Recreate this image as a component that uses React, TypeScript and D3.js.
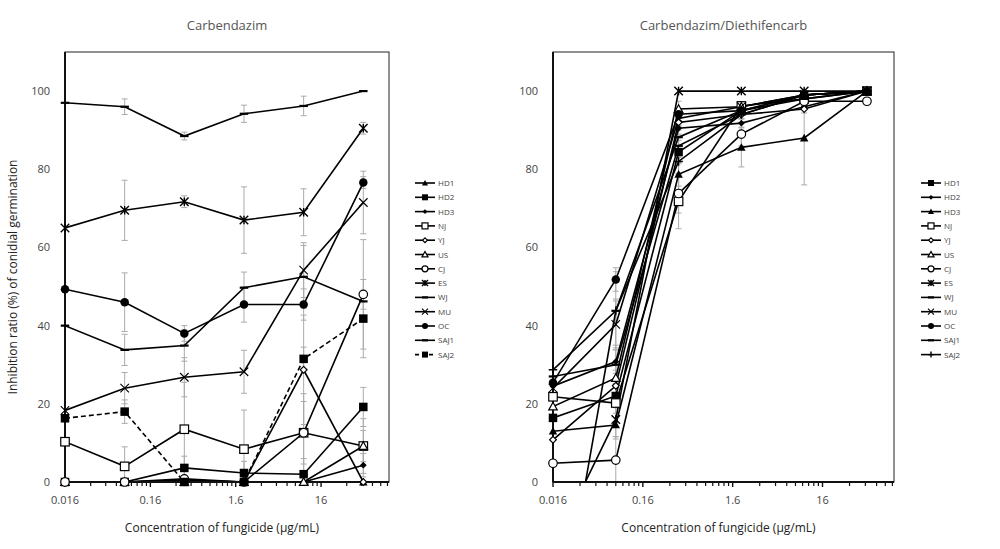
import React from "react";
import * as d3 from "d3";

const conc = [0.016, 0.08, 0.4, 2, 10, 50];
const names = ["HD1", "HD2", "HD3", "NJ", "YJ", "US", "CJ", "ES", "WJ", "MU", "OC", "SAJ1", "SAJ2"];
const xTicks = [0.016, 0.16, 1.6, 16];
const xTickLabels = ["0.016", "0.16", "1.6", "16"];
const yTicks = [0, 20, 40, 60, 80, 100];

// Carbendazim
const cHD1 = [0, 0, 0.5, 0, 0, 0];
const cHD2 = [0, 0, 3.6, 2.3, 2.0, 19.2];
const cHD3 = [0, 0, 0.5, 0, 0, 4.3];
const cNJ = [10.3, 4, 13.5, 8.4, 12.6, 9.2];
const cYJ = [0, 0, 0, 0, 28.7, 0];
const cUS = [0, 0, 0, 0, 0, 9.2];
const cCJ = [0, 0, 0.8, 0, 12.6, 48];
const cES = [65, 69.5, 71.7, 67, 69, 90.5];
const cWJ = [97, 96, 88.5, 94.2, 96.2, 100];
const cMU = [18.3, 24, 26.8, 28.2, 54.2, 71.5];
const cOC = [49.3, 46, 38, 45.4, 45.4, 76.6];
const cSAJ1 = [40, 33.8, 34.9, 49.7, 52.5, 46.2];
const cSAJ2 = [16.3, 18, 0, 0, 31.5, 41.8];

const cErrHD1 = [0, 0, 0, 0, 0, 0];
const cErrHD2 = [0, 0, 3, 3, 4, 5];
const cErrHD3 = [0, 0, 0, 0, 0, 3];
const cErrNJ = [0, 5, 12, 10, 10, 7];
const cErrYJ = [0, 0, 0, 0, 14, 0];
const cErrUS = [0, 0, 0, 0, 0, 4];
const cErrCJ = [0, 0, 0, 0, 8, 14];
const cErrES = [0, 7.7, 1.5, 8.5, 6, 1.5];
const cErrWJ = [0, 2, 1, 2.2, 2.5, 0];
const cErrMU = [0, 4, 5, 5.5, 7, 8];
const cErrOC = [0, 7.5, 2, 4.5, 4, 1.5];
const cErrSAJ1 = [0, 4, 4, 4, 8, 2];
const cErrSAJ2 = [0, 3, 0, 0, 3, 10];

// Carbendazim/Diethifencarb
const dHD1 = [16.4, 22, 84.4, 95, 99, 100];
const dHD2 = [24.5, 30.8, 90.5, 91.8, 96, 100];
const dHD3 = [13, 14.6, 78.7, 85.6, 88, 100];
const dNJ = [21.8, 20.2, 71.8, 96.2, 98, 100];
const dYJ = [10.8, 24.6, 92, 94, 95.4, 100];
const dUS = [19.3, 26.6, 95.4, 96, 99, 100];
const dCJ = [4.8, 5.6, 73.8, 89, 97.4, 97.4];
const dES = [-17, 16, 100, 100, 100, 100];
const dWJ = [-47, 43.8, 88.2, 95, 98, 100];
const dMU = [24, 40.3, 93, 96, 99, 100];
const dOC = [25.4, 51.8, 94.1, 95, 99, 100];
const dSAJ1 = [27, 30, 86, 94, 99, 100];
const dSAJ2 = [28.7, 43.8, 82, 94, 99, 100];

const dErrHD1 = [0, 3, 3, 1, 0, 0];
const dErrHD2 = [0, 3, 2, 1, 0, 0];
const dErrHD3 = [0, 3, 3, 5, 12, 0];
const dErrNJ = [0, 5, 7, 1, 1, 0];
const dErrYJ = [0, 4, 2, 1, 1, 0];
const dErrUS = [0, 4, 2, 1, 1, 0];
const dErrCJ = [0, 6, 5, 3, 1, 0];
const dErrES = [0, 5, 0, 0, 0, 0];
const dErrWJ = [0, 3, 3, 1, 0, 0];
const dErrMU = [0, 6, 2, 1, 0, 0];
const dErrOC = [0, 3, 1, 1, 0, 0];
const dErrSAJ1 = [0, 5, 3, 1, 0, 0];
const dErrSAJ2 = [0, 10, 3, 1, 0, 0];

const leftMarkers = ["triF", "sqF", "diaF", "sqO", "diaO", "triO", "cirO", "star", "dash", "x", "cirF", "dash", "sqF"];
const rightMarkers = ["sqF", "diaF", "triF", "sqO", "diaO", "triO", "cirO", "star", "dash", "x", "cirF", "dash", "plus"];

const leftValues = [cHD1, cHD2, cHD3, cNJ, cYJ, cUS, cCJ, cES, cWJ, cMU, cOC, cSAJ1, cSAJ2];
const leftErrs = [cErrHD1, cErrHD2, cErrHD3, cErrNJ, cErrYJ, cErrUS, cErrCJ, cErrES, cErrWJ, cErrMU, cErrOC, cErrSAJ1, cErrSAJ2];
const rightValues = [dHD1, dHD2, dHD3, dNJ, dYJ, dUS, dCJ, dES, dWJ, dMU, dOC, dSAJ1, dSAJ2];
const rightErrs = [dErrHD1, dErrHD2, dErrHD3, dErrNJ, dErrYJ, dErrUS, dErrCJ, dErrES, dErrWJ, dErrMU, dErrOC, dErrSAJ1, dErrSAJ2];

const FONT = "'Open Sans', 'Liberation Sans', sans-serif";

function Marker({ type, x, y, s }: { type: string; x: number; y: number; s: number }) {
  const h = s / 2;
  const sw = 1.2;
  switch (type) {
    case "sqF":
      return <rect x={x - h} y={y - h} width={s} height={s} fill="#000" />;
    case "sqO":
      return <rect x={x - h} y={y - h} width={s} height={s} fill="#fff" stroke="#000" strokeWidth={sw} />;
    case "cirF":
      return <circle cx={x} cy={y} r={h} fill="#000" />;
    case "cirO":
      return <circle cx={x} cy={y} r={h} fill="#fff" stroke="#000" strokeWidth={sw} />;
    case "triF":
      return <path d={`M${x},${y - h}L${x + h},${y + h * 0.8}L${x - h},${y + h * 0.8}Z`} fill="#000" />;
    case "triO":
      return <path d={`M${x},${y - h}L${x + h},${y + h * 0.8}L${x - h},${y + h * 0.8}Z`} fill="#fff" stroke="#000" strokeWidth={sw} />;
    case "diaF": {
      const k = h * 0.8;
      return <path d={`M${x},${y - k}L${x + k},${y}L${x},${y + k}L${x - k},${y}Z`} fill="#000" />;
    }
    case "diaO": {
      const k = h * 0.8;
      return <path d={`M${x},${y - k}L${x + k},${y}L${x},${y + k}L${x - k},${y}Z`} fill="#fff" stroke="#000" strokeWidth={sw} />;
    }
    case "star":
      return (
        <path
          d={`M${x - h},${y - h}L${x + h},${y + h}M${x - h},${y + h}L${x + h},${y - h}M${x},${y - h}L${x},${y + h}`}
          stroke="#000"
          strokeWidth={1.4}
          fill="none"
        />
      );
    case "x":
      return <path d={`M${x - h},${y - h}L${x + h},${y + h}M${x - h},${y + h}L${x + h},${y - h}`} stroke="#000" strokeWidth={1.1} fill="none" />;
    case "plus":
      return <path d={`M${x - h},${y}L${x + h},${y}M${x},${y - h}L${x},${y + h}`} stroke="#000" strokeWidth={1.4} fill="none" />;
    case "dash":
      return <path d={`M${x - h},${y}L${x + h},${y}`} stroke="#000" strokeWidth={2.2} fill="none" />;
    default:
      return null;
  }
}

type PanelProps = {
  id: string;
  title: string;
  x0: number;
  x1: number;
  values: number[][];
  errs: number[][];
  markers: string[];
  legendX: number;
  dashedIndex: number;
  yTitle: boolean;
};

function Panel({ id, title, x0, x1, values, errs, markers, legendX, dashedIndex, yTitle }: PanelProps) {
  const top = 52;
  const bottom = 482;
  const x = d3.scaleLog().domain([0.016, 100]).range([x0, x1]);
  const y = d3.scaleLinear().domain([0, 110]).range([bottom, top]);
  const line = d3
    .line<number>()
    .x((_, i) => x(conc[i]))
    .y((v) => y(v));

  const minor: number[] = [];
  for (let dec = 0; dec < 4; dec++) {
    for (let k = 2; k <= 9; k++) {
      const v = 0.016 * k * Math.pow(10, dec);
      if (v <= 100) minor.push(v);
    }
  }

  const legendY0 = 183;
  const legendStep = 14.3;

  return (
    <g>
      <defs>
        <clipPath id={`clip-${id}`}>
          <rect x={x0} y={top} width={x1 - x0} height={bottom - top} />
        </clipPath>
      </defs>
      <text x={(x0 + x1) / 2} y={30} textAnchor="middle" fontFamily={FONT} fontSize={13} fill="#555">
        {title}
      </text>
      {/* frame */}
      <rect x={x0} y={top} width={x1 - x0} height={bottom - top} fill="none" stroke="#222" strokeWidth={1} />
      {/* x ticks */}
      {minor.map((v, i) => (
        <line key={"m" + i} x1={x(v)} x2={x(v)} y1={bottom} y2={bottom + 4} stroke="#111" strokeWidth={1.2} />
      ))}
      {xTicks.map((v, i) => (
        <g key={"t" + i}>
          <line x1={x(v)} x2={x(v)} y1={bottom} y2={bottom + 5} stroke="#111" strokeWidth={1.4} />
          <text x={x(v)} y={bottom + 22} textAnchor="middle" fontFamily={FONT} fontSize={11} fill="#444">
            {xTickLabels[i]}
          </text>
        </g>
      ))}
      {yTicks.map((v) => (
        <text key={"y" + v} x={x0 - 15} y={y(v) + 4} textAnchor="end" fontFamily={FONT} fontSize={11} fill="#444">
          {v}
        </text>
      ))}
      <text x={(x0 + x1) / 2 - 5} y={532} textAnchor="middle" fontFamily={FONT} fontSize={12} fill="#222">
        Concentration of fungicide (μg/mL)
      </text>
      {yTitle && (
        <text
          transform={`translate(17,${(top + bottom) / 2 + 10}) rotate(-90)`}
          textAnchor="middle"
          fontFamily={FONT}
          fontSize={12}
          fill="#222"
        >
          Inhibition ratio (%) of conidial germination
        </text>
      )}
      <g clipPath={`url(#clip-${id})`}>
        {/* error bars */}
        {values.map((vals, si) =>
          vals.map((v, i) => {
            const e = errs[si][i];
            if (!e) return null;
            const cx = x(conc[i]);
            return (
              <g key={`e${si}-${i}`} stroke="#aaa" strokeWidth={1}>
                <line x1={cx} x2={cx} y1={y(v + e)} y2={y(Math.max(v - e, -5))} />
                <line x1={cx - 3} x2={cx + 3} y1={y(v + e)} y2={y(v + e)} />
                <line x1={cx - 3} x2={cx + 3} y1={y(v - e)} y2={y(v - e)} />
              </g>
            );
          })
        )}
        {values.map((vals, si) => (
          <path
            key={"l" + si}
            d={line(vals) || ""}
            fill="none"
            stroke="#000"
            strokeWidth={1.6}
            strokeDasharray={si === dashedIndex ? "5,3" : undefined}
          />
        ))}
      </g>
      <line x1={x0} x2={x0} y1={top} y2={bottom} stroke="#111" strokeWidth={2} />
      <line x1={x0} x2={x1} y1={bottom} y2={bottom} stroke="#111" strokeWidth={2} />
      {values.map((vals, si) =>
        vals.map((v, i) =>
          v < 0 ? null : <Marker key={`p${si}-${i}`} type={markers[si]} x={x(conc[i])} y={y(v)} s={8.5} />
        )
      )}
      {/* legend */}
      {names.map((n, i) => {
        const ly = legendY0 + i * legendStep;
        return (
          <g key={"lg" + n}>
            <line
              x1={legendX}
              x2={legendX + 20}
              y1={ly}
              y2={ly}
              stroke="#000"
              strokeWidth={1.6}
              strokeDasharray={i === dashedIndex ? "4,3" : undefined}
            />
            <Marker type={markers[i]} x={legendX + 10} y={ly} s={6} />
            <text x={legendX + 23} y={ly + 3} fontFamily={FONT} fontSize={8} fill="#444">
              {n}
            </text>
          </g>
        );
      })}
    </g>
  );
}

export default function App() {
  return (
    <svg width={1000} height={549} style={{ position: "absolute", left: 0, top: 0, background: "#fff" }}>
      <rect x={0} y={0} width={1000} height={549} fill="#fff" />
      <Panel
        id="left"
        title="Carbendazim"
        x0={65}
        x1={389}
        values={leftValues}
        errs={leftErrs}
        markers={leftMarkers}
        legendX={415}
        dashedIndex={12}
        yTitle={true}
      />
      <Panel
        id="right"
        title="Carbendazim/Diethifencarb"
        x0={553}
        x1={894}
        values={rightValues}
        errs={rightErrs}
        markers={rightMarkers}
        legendX={921}
        dashedIndex={-1}
        yTitle={false}
      />
    </svg>
  );
}
